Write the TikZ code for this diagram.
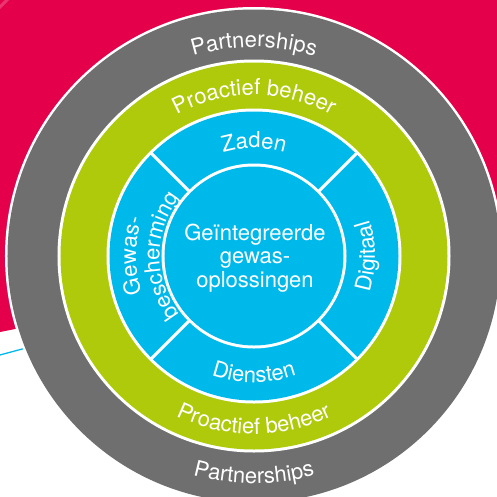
\documentclass[tikz,border=0pt]{standalone}
\usepackage{fontspec}
\setmainfont{TeX Gyre Heros}
\usetikzlibrary{decorations.text}
\definecolor{magentabg}{HTML}{E4004B}
\definecolor{ringgray}{HTML}{6F6F6F}
\definecolor{ringgreen}{HTML}{AFCA0B}
\definecolor{ringblue}{HTML}{00B9EB}
\newcommand\ringfont{\fontsize{22}{26}\selectfont}
\begin{document}
\begin{tikzpicture}[x=1pt,y=1pt,
  arctext/.style={decorate,decoration={text along path,text align=center,text color=white,text={|\ringfont|#1}}},
  divider/.style={white,line width=3pt}]
\useasboundingbox (-254,-240) rectangle (243,256);
\fill[white] (-254,-240) rectangle (243,256);
\fill[magentabg] (-254,256) -- (243,256) -- (243,23) -- (-254,-76) -- cycle;
\draw[magentabg!65!white,line width=3pt,opacity=0.6] (-258,245) -- (-243,260);
\draw[ringblue,line width=1.3pt] (-256,-99.5) -- (-150,-71);
% rings
\fill[white] (0,0) circle[radius=249];
\fill[ringgray] (0,0) circle[radius=246.5];
\fill[white] (0,0) circle[radius=196.5];
\fill[ringgreen] (0,0) circle[radius=193.5];
\fill[white] (0,0) circle[radius=147.5];
\fill[ringblue] (0,0) circle[radius=144.5];
\foreach \a in {45,135,225,315} \draw[divider] (\a:89) -- (\a:146);
\fill[white] (0,0) circle[radius=92.5];
\fill[ringblue] (0,0) circle[radius=89.5];
% ring texts
\path[arctext=Partnerships] (140:209) arc[start angle=140,end angle=40,radius=209];
\path[arctext=Partnerships] (220:227.5) arc[start angle=220,end angle=320,radius=227.5];
\path[arctext=Proactief beheer] (150:161) arc[start angle=150,end angle=30,radius=161];
\path[arctext=Proactief beheer] (210:178) arc[start angle=210,end angle=330,radius=178];
\path[arctext=Zaden] (150:108) arc[start angle=150,end angle=30,radius=108];
\path[arctext=Diensten] (210:126.5) arc[start angle=210,end angle=330,radius=126.5];
\path[arctext=Digitaal] (-60:121) arc[start angle=-60,end angle=60,radius=121];
\path[arctext=Gewas-] (240:118) arc[start angle=240,end angle=120,radius=118];
\path[arctext=bescherming] (240:94.5) arc[start angle=240,end angle=120,radius=94.5];
\node[text=white,align=center,font=\fontsize{22}{23.5}\selectfont] (core) at (1,-2) {Geïntegreerde\\gewas-\\oplossingen};
\end{tikzpicture}
\end{document}
